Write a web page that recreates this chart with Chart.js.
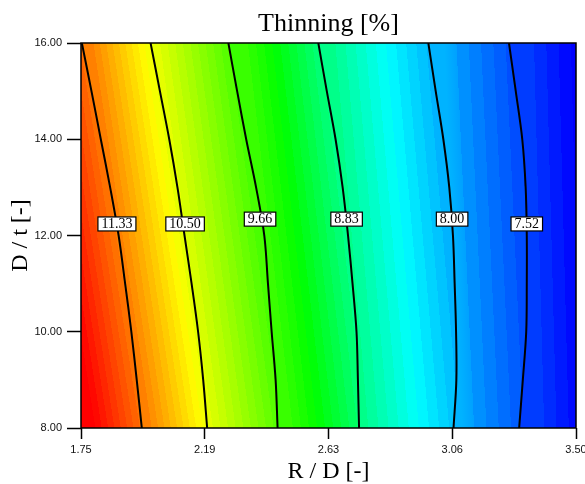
<!DOCTYPE html>
<html>
<head>
<meta charset="utf-8">
<script src="https://cdn.jsdelivr.net/npm/chart.js@4.4.1/dist/chart.umd.min.js"></script>
<style>
  html, body { margin: 0; padding: 0; background: #fff; }
  #wrap { width: 585px; height: 484px; }
</style>
</head>
<body>
<div id="wrap"><canvas id="contourChart" width="585" height="484"></canvas></div>
<script>
// Thinning [%] contour map, R/D on x and D/t on y

// contour levels and the text of their labels
const levels = [11.33, 10.50, 9.66, 8.83, 8.00, 7.52];
const levelLabels = ['11.33', '10.50', '9.66', '8.83', '8.00', '7.52'];

const rowsDt = [8, 9, 10, 11, 12, 13, 14, 15, 16];

// R/D position of each contour line on those rows (bottom -> top)
const line1133 = [1.965, 1.947, 1.928, 1.906, 1.883, 1.853, 1.820, 1.787, 1.753];
const line1050 = [2.196, 2.182, 2.164, 2.141, 2.116, 2.091, 2.062, 2.029, 1.996];
const line966  = [2.445, 2.438, 2.424, 2.411, 2.398, 2.369, 2.334, 2.302, 2.271];
const line883  = [2.733, 2.729, 2.724, 2.710, 2.694, 2.675, 2.650, 2.619, 2.589];
const line800  = [3.067, 3.077, 3.076, 3.071, 3.065, 3.052, 3.031, 3.004, 2.978];
const line752  = [3.299, 3.312, 3.324, 3.326, 3.326, 3.322, 3.310, 3.287, 3.263];
const contours = [line1133, line1050, line966, line883, line800, line752];

// where the label boxes sit
const labelX = [1.877, 2.118, 2.383, 2.689, 3.062, 3.326];
const labelY = [12.24, 12.24, 12.34, 12.34, 12.34, 12.24];

// axes
const xTickValues = [1.75, 2.1875, 2.625, 3.0625, 3.50];
const xTickLabels = ['1.75', '2.19', '2.63', '3.06', '3.50'];
const yTickValues = [8, 10, 12, 14, 16];
const yTickLabels = ['8.00', '10.00', '12.00', '14.00', '16.00'];

// colour scale (value -> rainbow), drawn in small steps like the original
const cmapValues = [12.0, 10.65, 9.35, 8.4, 7.2];
const cmapRgb = [[255, 0, 0], [255, 255, 0], [0, 255, 0], [0, 255, 255], [0, 0, 255]];
const STEP = 0.08;

function toPoints(xs, ys) {
    return xs.map((x, i) => ({ x: x, y: ys[i] }));
}

function cmap(v) {
    if (v >= cmapValues[0]) return cmapRgb[0];
    for (let i = 1; i < cmapValues.length; i++) {
        if (v >= cmapValues[i]) {
            const t = (cmapValues[i - 1] - v) / (cmapValues[i - 1] - cmapValues[i]);
            const a = cmapRgb[i - 1], b = cmapRgb[i];
            return a.map((c, k) => Math.round(c + (b[k] - c) * t));
        }
    }
    return cmapRgb[cmapRgb.length - 1];
}

function levelColor(v) {
    const k = Math.floor(v / STEP);
    const c = cmap((k + 0.5) * STEP);
    return 'rgb(' + c[0] + ',' + c[1] + ',' + c[2] + ')';
}

// gradient running from p0 (value v0) to p1 (value v1), stepped
function bandGradient(ctx, p0, p1, v0, v1) {
    const g = ctx.createLinearGradient(p0.x, p0.y, p1.x, p1.y);
    const lo = Math.min(v0, v1), hi = Math.max(v0, v1);
    const side = v0 > v1 ? 1 : -1;
    const stops = [];
    for (let k = Math.ceil(lo / STEP); k <= Math.floor(hi / STEP); k++) {
        const L = k * STEP;
        if (L <= lo || L >= hi) continue;
        stops.push({ f: (L - v0) / (v1 - v0), a: levelColor(L + side * STEP / 2), b: levelColor(L - side * STEP / 2) });
    }
    stops.sort((s, t) => s.f - t.f);
    g.addColorStop(0, levelColor(v0));
    stops.forEach(s => { g.addColorStop(s.f, s.a); g.addColorStop(s.f, s.b); });
    g.addColorStop(1, levelColor(v1));
    return g;
}

function lineGeometry(chart) {
    const xs = chart.scales.x, ys = chart.scales.y;
    const last = rowsDt.length - 1, mid = Math.floor(rowsDt.length / 2);
    return contours.map(c => {
        const top = { x: xs.getPixelForValue(c[last]), y: ys.getPixelForValue(rowsDt[last]) };
        const bot = { x: xs.getPixelForValue(c[0]), y: ys.getPixelForValue(rowsDt[0]) };
        return {
            mid: { x: xs.getPixelForValue(c[mid]), y: ys.getPixelForValue(rowsDt[mid]) },
            slope: (bot.x - top.x) / (bot.y - top.y)
        };
    });
}

function bandFill(context) {
    const chart = context.chart;
    if (!chart.chartArea || !chart.scales.x) return 'rgba(0,0,0,0)';
    const g = lineGeometry(chart);
    const i = context.datasetIndex;
    const n = contours.length;
    function width(a, b, s) { return (g[b].mid.x - g[a].mid.x) / Math.sqrt(1 + s * s); }
    function dir(s) { const q = Math.sqrt(1 + s * s); return { x: 1 / q, y: -s / q }; }
    let p0, p1, v0, v1;
    if (i === 1) {
        // left edge band, extended with the next band's rate
        const s = g[0].slope, d = width(0, 1, (g[0].slope + g[1].slope) / 2), u = dir(s);
        p0 = g[0].mid; p1 = { x: p0.x - u.x * d, y: p0.y - u.y * d };
        v0 = levels[0]; v1 = levels[0] + (levels[0] - levels[1]);
    } else if (i === n + 1) {
        // right edge band
        const s = g[n - 1].slope, d = width(n - 2, n - 1, (g[n - 2].slope + g[n - 1].slope) / 2), u = dir(s);
        p0 = g[n - 1].mid; p1 = { x: p0.x + u.x * d, y: p0.y + u.y * d };
        v0 = levels[n - 1]; v1 = levels[n - 1] - (levels[n - 2] - levels[n - 1]);
    } else {
        const a = i - 2, b = i - 1;
        const s = (g[a].slope + g[b].slope) / 2, d = width(a, b, s), u = dir(s);
        p0 = g[a].mid; p1 = { x: p0.x + u.x * d, y: p0.y + u.y * d };
        v0 = levels[a]; v1 = levels[b];
    }
    return bandGradient(chart.ctx, p0, p1, v0, v1);
}

const xMin = 1.75, xMax = 3.50, yMin = 8, yMax = 16;
const edgeRows = [yMin, yMax];

const datasets = [];
datasets.push({ data: toPoints([xMin, xMin], edgeRows), borderColor: 'rgba(0,0,0,0)', fill: false });
contours.forEach(c => {
    datasets.push({
        data: toPoints(c, rowsDt),
        borderColor: '#000',
        borderWidth: 2,
        tension: 0.35,
        fill: '-1',
        backgroundColor: bandFill
    });
});
datasets.push({ data: toPoints([xMax, xMax], edgeRows), borderColor: 'rgba(0,0,0,0)', fill: '-1', backgroundColor: bandFill });

// frame around the plot and the boxed contour labels
const framePlugin = {
    id: 'frameAndLabels',
    afterDatasetsDraw(chart) {
        const { ctx, chartArea: a, scales: { x, y } } = chart;
        ctx.save();
        ctx.strokeStyle = '#000';
        ctx.lineWidth = 1.5;
        ctx.strokeRect(a.left, a.top, a.right - a.left, a.bottom - a.top);
        ctx.font = '14px "Liberation Serif", "Times New Roman", serif';
        ctx.textAlign = 'center';
        ctx.textBaseline = 'middle';
        levelLabels.forEach((t, i) => {
            const px = x.getPixelForValue(labelX[i]);
            const py = y.getPixelForValue(labelY[i]);
            const w = ctx.measureText(t).width + 7, h = 14;
            ctx.fillStyle = '#fff';
            ctx.fillRect(px - w / 2, py - h / 2, w, h);
            ctx.lineWidth = 1.2;
            ctx.strokeRect(px - w / 2, py - h / 2, w, h);
            ctx.fillStyle = '#000';
            ctx.fillText(t, px, py + 0.5);
        });
        ctx.restore();
    }
};

new Chart(document.getElementById('contourChart'), {
    type: 'line',
    data: { datasets: datasets },
    options: {
        indexAxis: 'y',
        responsive: false,
        animation: false,
        devicePixelRatio: 1,
        layout: { padding: { left: 0, right: 9, top: 0, bottom: 0 } },
        elements: { point: { radius: 0 } },
        plugins: {
            legend: { display: false },
            tooltip: { enabled: false },
            filler: { drawTime: 'beforeDatasetsDraw' },
            title: {
                display: true,
                fullSize: false,
                text: 'Thinning [%]',
                color: '#000',
                font: { family: 'Liberation Serif', size: 26, weight: 'normal', lineHeight: 1.2 },
                padding: { top: 8.5, bottom: 3.3 }
            }
        },
        scales: {
            x: {
                type: 'linear', min: xMin, max: xMax,
                afterBuildTicks: s => { s.ticks = xTickValues.map(v => ({ value: v })); },
                afterFit: s => { s.paddingLeft = 0; s.paddingRight = 0; s.height = 56; },
                ticks: {
                    callback: (v, i) => xTickLabels[i],
                    font: { family: 'Liberation Sans', size: 11 },
                    color: '#111', padding: 4, maxRotation: 0, autoSkip: false
                },
                grid: { drawOnChartArea: false, tickLength: 11, tickColor: '#000', tickWidth: 1.5 },
                border: { display: false },
                title: {
                    display: true, text: 'R / D [-]', color: '#000',
                    font: { family: 'Liberation Serif', size: 24, lineHeight: 1 },
                    padding: { top: 0, bottom: 0 }
                }
            },
            y: {
                type: 'linear', min: yMin, max: yMax,
                afterBuildTicks: s => { s.ticks = yTickValues.map(v => ({ value: v })); },
                afterFit: s => { s.width = 81; s.paddingTop = 0; s.paddingBottom = 0; },
                ticks: {
                    callback: (v, i) => yTickLabels[i],
                    font: { family: 'Liberation Sans', size: 11 },
                    color: '#111', padding: 5, autoSkip: false
                },
                grid: { drawOnChartArea: false, tickLength: 14, tickColor: '#000', tickWidth: 1.5 },
                border: { display: false },
                title: {
                    display: true, text: 'D / t [-]', color: '#000',
                    font: { family: 'Liberation Serif', size: 24, lineHeight: 1.2 },
                    padding: { top: 6.6, bottom: 0 }
                }
            }
        }
    },
    plugins: [framePlugin]
});
</script>
</body>
</html>
